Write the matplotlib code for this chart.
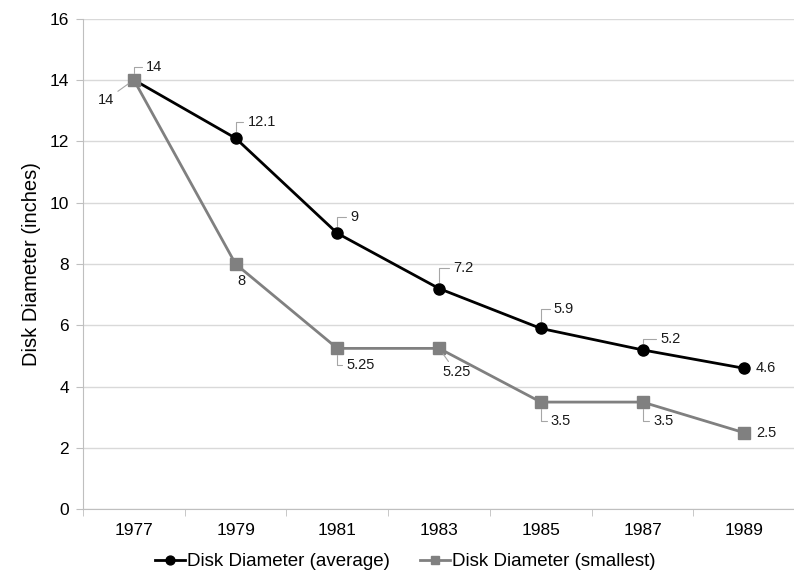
import matplotlib.pyplot as plt

plt.rcParams['font.family'] = ['Liberation Sans', 'DejaVu Sans']

years = ['1977', '1979', '1981', '1983', '1985', '1987', '1989']
avg_diameter = [14, 12.1, 9, 7.2, 5.9, 5.2, 4.6]
small_diameter = [14, 8, 5.25, 5.25, 3.5, 3.5, 2.5]
avg_labels = ['14', '12.1', '9', '7.2', '5.9', '5.2', '4.6']
small_labels = ['14', '8', '5.25', '5.25', '3.5', '3.5', '2.5']

# label offsets in pixels (dx, dy), alignment, leader line style (None = no line)
avg_offsets = [(-28, -20), (12, 16), (13, 16), (14, 21), (13, 19), (18, 11), (11, 0)]
avg_ha = ['center', 'left', 'left', 'left', 'left', 'left', 'left']
avg_leader = ['arc3', 'angle', 'angle', 'angle', 'angle', 'angle', None]
small_offsets = [(12, 13), (2, -17), (9, -17), (3, -24), (10, -19), (11, -19), (12, 0)]
small_ha = ['left'] * 7
small_leader = ['angle', None, 'angle', 'arc3', 'angle', 'angle', None]

fig = plt.figure(figsize=(7.94, 5.82), dpi=100)
ax = fig.add_axes([0.1045, 0.1246, 0.897, 0.8436])

x = list(range(len(years)))
ax.plot(x, avg_diameter, color='black', lw=2, marker='o', ms=8, zorder=3,
        label='Disk Diameter (average)')
ax.plot(x, small_diameter, color='#808080', lw=2, marker='s', ms=8, zorder=4,
        label='Disk Diameter (smallest)')


def put_labels(vals, labels, offsets, has, leaders):
    for i, (v, t) in enumerate(zip(vals, labels)):
        dx, dy = offsets[i]
        ap = None
        if leaders[i] == 'angle':
            ap = dict(arrowstyle='-', color='#a6a6a6', lw=0.8, shrinkA=1, shrinkB=5,
                      connectionstyle='angle,angleA=0,angleB=90,rad=0')
        elif leaders[i] == 'arc3':
            ap = dict(arrowstyle='-', color='#a6a6a6', lw=0.8, shrinkA=1, shrinkB=5)
        ax.annotate(t, xy=(i, v), xytext=(dx, dy), textcoords='offset pixels',
                    ha=has[i], va='center', fontsize=10.5, color='#1a1a1a',
                    arrowprops=ap, zorder=5)


put_labels(avg_diameter, avg_labels, avg_offsets, avg_ha, avg_leader)
put_labels(small_diameter, small_labels, small_offsets, small_ha, small_leader)

ax.set_xlim(-0.5, len(years) - 0.5)
ax.set_ylim(0, 16)
ax.set_yticks(range(0, 17, 2))
ax.set_xticks(x)
ax.set_xticklabels(years)
ax.set_xticks([i - 0.5 for i in range(len(years) + 1)], minor=True)
ax.tick_params(axis='x', which='major', length=0, labelsize=12.5, pad=10)
ax.tick_params(axis='x', which='minor', length=5, color='#bfbfbf')
ax.tick_params(axis='y', length=5, color='#bfbfbf', labelsize=12.5, pad=5)
ax.grid(axis='y', color='#d9d9d9', lw=1)
ax.set_axisbelow(True)
for s in ['top', 'right']:
    ax.spines[s].set_visible(False)
for s in ['left', 'bottom']:
    ax.spines[s].set_color('#bfbfbf')
ax.set_ylabel('Disk Diameter (inches)', fontsize=14.5, labelpad=6)

h, l = ax.get_legend_handles_labels()
fig.legend(h, l, loc='center', bbox_to_anchor=(0.51, 0.035), ncol=2,
           frameon=False, fontsize=13.5, handlelength=1.6, handletextpad=0.1,
           columnspacing=1.6, markerscale=0.8)

fig.savefig('out.png', dpi=100)
